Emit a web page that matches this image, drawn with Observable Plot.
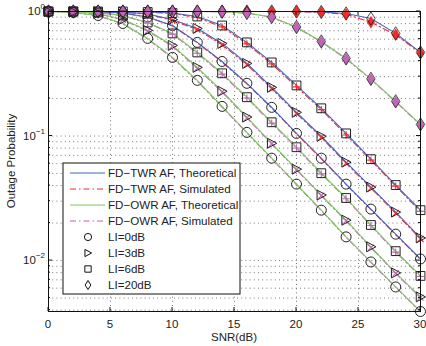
<!DOCTYPE html>
<html><head><meta charset="utf-8">
<script src="https://cdn.jsdelivr.net/npm/d3@7"></script>
<script src="https://cdn.jsdelivr.net/npm/@observablehq/plot@0.6"></script>
<style>
body{margin:0;background:#fff}
svg{font-family:"Liberation Sans",Arial,Helvetica,sans-serif}
</style>
</head><body><div id="chart"></div>
<script>
// ---- data ----
const snr = [0,2,4,6,8,10,12,14,16,18,20,22,24,26,28,30];
const liLevels = ["LI=0dB","LI=3dB","LI=6dB","LI=20dB"];

const twrTheoLI0  = [1,1,0.995,0.973,0.904,0.772,0.565,0.397,0.265,0.170,0.105,0.0664,0.0411,0.0259,0.0163,0.0103];
const twrTheoLI3  = [1,1,1,0.991,0.955,0.863,0.731,0.554,0.383,0.246,0.155,0.0996,0.0617,0.0389,0.0245,0.0152];
const twrTheoLI6  = [1,1,1,1,0.991,0.973,0.912,0.772,0.565,0.390,0.255,0.167,0.105,0.0652,0.0404,0.0254];
const twrTheoLI20 = [1,1,1,1,1,1,1,1,1,1,1,0.991,0.964,0.879,0.667,0.469];
const owrTheoLI0  = [1,0.982,0.929,0.801,0.608,0.428,0.280,0.173,0.107,0.0664,0.0411,0.0254,0.0155,0.00975,0.00614,0.0039];
const owrTheoLI3  = [1,0.991,0.964,0.863,0.705,0.534,0.356,0.229,0.142,0.0875,0.0542,0.0336,0.0211,0.0129,0.00796,0.00511];
const owrTheoLI6  = [1,1,0.982,0.929,0.816,0.667,0.469,0.319,0.205,0.129,0.0813,0.0503,0.0318,0.0193,0.0119,0.00753];
const owrTheoLI20 = [1,1,1,1,1,1,1,0.995,0.973,0.904,0.751,0.575,0.420,0.288,0.190,0.124];

const twrSimLI0  = [1,1,0.994,0.970,0.898,0.765,0.560,0.392,0.262,0.168,0.104,0.0655,0.0408,0.0256,0.0161,0.0102];
const twrSimLI3  = [1,1,1,0.989,0.948,0.850,0.715,0.540,0.375,0.240,0.152,0.0975,0.0605,0.0382,0.0240,0.0149];
const twrSimLI6  = [1,1,1,1,0.988,0.965,0.895,0.752,0.550,0.380,0.248,0.163,0.102,0.0640,0.0396,0.0249];
const twrSimLI20 = [1,1,1,1,1,1,1,1,1,1,0.998,0.985,0.950,0.820,0.650,0.465];
const owrSimLI0  = [1,0.980,0.925,0.795,0.600,0.422,0.276,0.171,0.106,0.0658,0.0407,0.0252,0.0154,0.00968,0.0061,0.00388];
const owrSimLI3  = [1,0.990,0.960,0.855,0.697,0.527,0.350,0.225,0.140,0.0864,0.0535,0.0332,0.0208,0.0127,0.00788,0.00505];
const owrSimLI6  = [1,1,0.980,0.924,0.808,0.658,0.462,0.314,0.202,0.127,0.0802,0.0497,0.0314,0.0191,0.0117,0.00745];
const owrSimLI20 = [1,1,1,1,1,1,1,0.994,0.970,0.898,0.745,0.570,0.416,0.285,0.188,0.123];

const xTicks = [0,5,10,15,20,25,30];
const yMajor = [1,0.1,0.01];
const yMajorExp = ["0","\u22121","\u22122"];
const yMinor = [0.004,0.005,0.006,0.007,0.008,0.009,0.02,0.03,0.04,0.05,0.06,0.07,0.08,0.09,0.2,0.3,0.4,0.5,0.6,0.7,0.8,0.9];
const xGrid = [5,10,15,20,25];
const legendLabels = ["FD\u2212TWR AF, Theoretical","FD\u2212TWR AF, Simulated","FD\u2212OWR AF, Theoretical","FD\u2212OWR AF, Simulated"];

// ---- styling ----
const BLUE = "#4565c6", RED = "#f52a2a", GREEN = "#7cc95c", MAG = "#c262b8";
const DASHDOT = "6,3,1.5,3";

const symCircle = {draw(c,s){const r=Math.sqrt(s/Math.PI); c.moveTo(r,0); c.arc(0,0,r,0,2*Math.PI);}};
const symTri = {draw(c,s){const r=Math.sqrt(s/Math.PI); c.moveTo(r,0); c.lineTo(-r*0.85,-r); c.lineTo(-r*0.85,r); c.closePath();}};
const symSquare = {draw(c,s){const r=Math.sqrt(s/Math.PI)*0.88; c.rect(-r,-r,2*r,2*r);}};
const symDiamond = {draw(c,s){const r=Math.sqrt(s/Math.PI); c.moveTo(0,-r*1.25); c.lineTo(r*0.8,0); c.lineTo(0,r*1.25); c.lineTo(-r*0.8,0); c.closePath();}};
const symPlus = {draw(c,s){const r=Math.sqrt(s/Math.PI); c.moveTo(-r,0); c.lineTo(r,0); c.moveTo(0,-r); c.lineTo(0,r);}};
const symTimes = {draw(c,s){const r=Math.sqrt(s/Math.PI)*0.75; c.moveTo(-r,-r); c.lineTo(r,r); c.moveTo(-r,r); c.lineTo(r,-r);}};
const theoSyms = [symCircle, symTri, symSquare, symDiamond];

const curves = [
  {sys:"TWR", li:0, theo:twrTheoLI0, sim:twrSimLI0},
  {sys:"TWR", li:1, theo:twrTheoLI3, sim:twrSimLI3},
  {sys:"TWR", li:2, theo:twrTheoLI6, sim:twrSimLI6},
  {sys:"TWR", li:3, theo:twrTheoLI20, sim:twrSimLI20},
  {sys:"OWR", li:0, theo:owrTheoLI0, sim:owrSimLI0},
  {sys:"OWR", li:1, theo:owrTheoLI3, sim:owrSimLI3},
  {sys:"OWR", li:2, theo:owrTheoLI6, sim:owrSimLI6},
  {sys:"OWR", li:3, theo:owrTheoLI20, sim:owrSimLI20}
];
function rows(sys, kind){
  const out=[];
  curves.filter(c=>c.sys===sys).forEach(c=>{
    snr.forEach((x,i)=>out.push({snr:x, p:c[kind][i], li:c.li, key:sys+c.li}));
  });
  return out;
}
const twrTheo = rows("TWR","theo"), twrSim = rows("TWR","sim");
const owrTheo = rows("OWR","theo"), owrSim = rows("OWR","sim");

function simMarks(data, color){
  return [
    Plot.dot(data.filter(d=>d.li===1), {x:"snr", y:"p", symbol:symTimes, r:4, stroke:color, strokeWidth:1.1}),
    Plot.dot(data.filter(d=>d.li===2), {x:"snr", y:"p", symbol:symPlus, r:3.6, stroke:color, strokeWidth:1.1}),
    Plot.dot(data.filter(d=>d.li===3), {x:"snr", y:"p", symbol:symDiamond, r:5, fill:color, stroke:"none"})
  ];
}
function theoMarks(data){
  return [0,1,2,3].map(k => Plot.dot(data.filter(d=>d.li===k), {x:"snr", y:"p", symbol:theoSyms[k], r:k===3?5.3:5, stroke:"#222", fill:"none", strokeWidth:k===3?0.8:1}));
}

const W=426, H=346, ML=48, MR=6, MT=11, MB=35;
const plot = Plot.plot({
  width:W, height:H, marginLeft:ML, marginRight:MR, marginTop:MT, marginBottom:MB,
  x:{domain:[0,30], axis:null},
  y:{type:"log", domain:[0.0039,1], axis:null},
  marks:[
    Plot.ruleY(yMinor.concat([0.1,0.01]), {stroke:"#555", strokeWidth:0.8, strokeDasharray:"1,3.2"}),
    Plot.ruleX(xGrid, {stroke:"#555", strokeWidth:0.8, strokeDasharray:"1,3.2"}),
    Plot.line(twrSim, {x:"snr", y:"p", z:"key", stroke:RED, strokeWidth:1.1, strokeDasharray:DASHDOT}),
    Plot.line(twrTheo, {x:"snr", y:"p", z:"key", stroke:BLUE, strokeWidth:1.1}),
    ...simMarks(twrSim, RED),
    ...theoMarks(twrTheo),
    Plot.line(owrSim, {x:"snr", y:"p", z:"key", stroke:MAG, strokeWidth:1.1, strokeDasharray:DASHDOT}),
    Plot.line(owrTheo, {x:"snr", y:"p", z:"key", stroke:GREEN, strokeWidth:1.1}),
    ...simMarks(owrSim, MAG),
    ...theoMarks(owrTheo),
    Plot.frame({stroke:"#111", strokeWidth:1})
  ]
});
document.getElementById("chart").appendChild(plot);

// ---- axes, ticks, legend (positions from the plot's scales) ----
const sx = plot.scale("x"), sy = plot.scale("y");
const svg = d3.select(plot);
const g = svg.append("g").attr("fill","#222").attr("font-size",11.5);
const y0 = sy.apply(0.0039), y1 = sy.apply(1);
const xL = sx.apply(0), xR = sx.apply(30);
xTicks.forEach(t=>{
  const px = sx.apply(t);
  g.append("line").attr("x1",px).attr("x2",px).attr("y1",y0).attr("y2",y0-4).attr("stroke","#111");
  g.append("line").attr("x1",px).attr("x2",px).attr("y1",y1).attr("y2",y1+4).attr("stroke","#111");
  g.append("text").attr("x",px).attr("y",y0+17).attr("text-anchor","middle").text(String(t));
});
yMajor.forEach((t,i)=>{
  const py = sy.apply(t);
  g.append("line").attr("x1",xL).attr("x2",xL+4).attr("y1",py).attr("y2",py).attr("stroke","#111");
  g.append("line").attr("x1",xR).attr("x2",xR-4).attr("y1",py).attr("y2",py).attr("stroke","#111");
  const tx = g.append("text").attr("x",xL-3).attr("y",py+4).attr("text-anchor","end");
  tx.append("tspan").text("10");
  tx.append("tspan").attr("dy",-6).attr("font-size",8).text(yMajorExp[i]);
});
yMinor.forEach(t=>{
  const py = sy.apply(t);
  g.append("line").attr("x1",xL).attr("x2",xL+2).attr("y1",py).attr("y2",py).attr("stroke","#111");
  g.append("line").attr("x1",xR).attr("x2",xR-2).attr("y1",py).attr("y2",py).attr("stroke","#111");
});
g.append("text").attr("x",(xL+xR)/2).attr("y",H-5).attr("text-anchor","middle").text("SNR(dB)");
g.append("text").attr("transform",`translate(15,${(y0+y1)/2}) rotate(-90)`).attr("text-anchor","middle").text("Outage Probability");

// legend
const lg = svg.append("g").attr("text-anchor","start");
const LX=63, LY=163, LW=177, LH=131;
lg.append("rect").attr("x",LX).attr("y",LY).attr("width",LW).attr("height",LH).attr("fill","#fff").attr("stroke","#111").attr("stroke-width",1);
const lineStyles = [[BLUE,null],[RED,DASHDOT],[GREEN,null],[MAG,DASHDOT]];
legendLabels.forEach((lab,i)=>{
  const cy = LY+10+i*16;
  lg.append("line").attr("x1",LX+7).attr("x2",LX+42).attr("y1",cy).attr("y2",cy)
    .attr("stroke",lineStyles[i][0]).attr("stroke-width",1.1).attr("stroke-dasharray",lineStyles[i][1]);
  lg.append("text").attr("x",LX+45).attr("y",cy+4).attr("font-size",11.6).attr("fill","#222").attr("text-anchor","start").text(lab);
});
liLevels.forEach((lab,i)=>{
  const cy = LY+10+(i+4)*16;
  const sym = theoSyms[i];
  const r = 3.6;
  lg.append("path").attr("transform",`translate(${LX+25},${cy})`)
    .attr("d", d3.symbol(sym, Math.PI*r*r)()).attr("fill","none").attr("stroke","#111").attr("stroke-width",1);
  lg.append("text").attr("x",LX+45).attr("y",cy+4).attr("font-size",11.6).attr("fill","#222").attr("text-anchor","start").text(lab);
});
</script>
</body></html>
